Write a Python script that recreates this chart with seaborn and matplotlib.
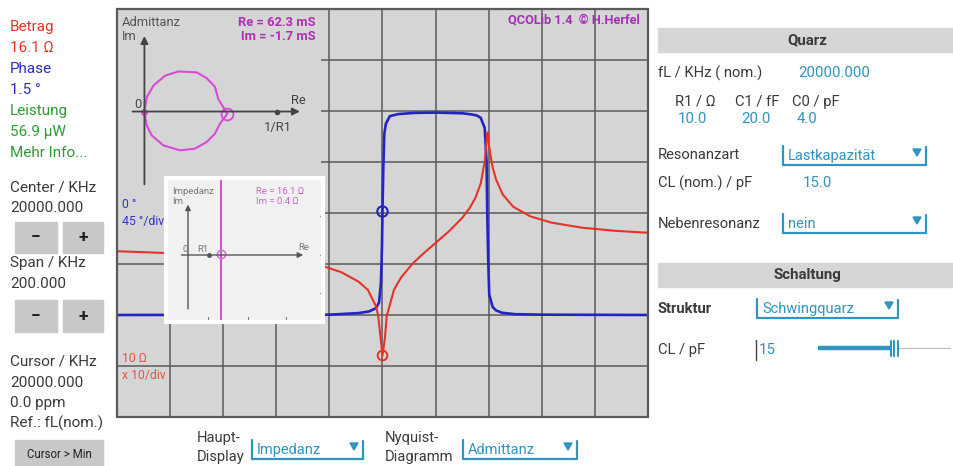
import numpy as np
import matplotlib
matplotlib.use("Agg")
import matplotlib.pyplot as plt
import seaborn as sns
from matplotlib.patches import Rectangle, Polygon

# ---------------- data ----------------
# impedance magnitude versus frequency offset from the 20000 kHz centre
freq_mag_khz = [-100, -81.5, -22.0, -15.5, -9.0, -5.5, -2.5, -1.6, -0.7, 0.0,
                0.9, 1.6, 4.3, 7.0, 11.2, 15.0, 20.0, 25.0, 30.0, 33.0, 35.0,
                37.0, 38.5, 39.2, 39.6, 40.0, 40.8, 41.5, 42.8, 45.3, 49.2,
                55.7, 63.5, 75.1, 88.0, 100]
mag_ohm = [1780, 1640, 895, 690, 450, 310, 150, 95, 35, 16.1,
           35, 95, 310, 544, 1000, 1540, 2590, 4360, 7990, 12900, 19800,
           37900, 101000, 270000, 380000, 230000, 125000, 78000, 45000, 23000, 13300,
           8600, 6500, 5150, 4460, 4100]

# phase versus frequency offset
freq_phase_khz = [-100, -20, -9, -5, -2.5, -1.3, -0.6, -0.2, 0.0, 0.3, 0.7, 1.3,
                  2.8, 6, 12, 20, 30, 33.5, 35.6, 37, 38.5, 39.2, 39.45, 39.8,
                  40.2, 41.5, 42.8, 45, 50, 60, 100]
phase_deg = [-90, -89.7, -88.3, -86.8, -84, -79, -62, -30, 1.5, 40, 70, 79,
             85.5, 87.3, 88.3, 88.6, 88, 87, 86, 84, 75, 45, 0, -40,
             -72, -83, -86, -88, -89.3, -89.7, -90]

# admittance locus (mS)
adm_re_ms = [0, 1.75, 6.75, 15.5, 25.5, 39.3, 46.75, 53, 55.5, 62.3,
             56.8, 53, 46.75, 38, 26.75, 14.25, 5.5, 1.75, 0]
adm_im_ms = [0, 10.7, 19.5, 27, 30.2, 29.5, 25.2, 18.75, 9.5, -1.7,
             -9.25, -16.75, -23, -28, -29.25, -25.5, -18, -10.5, 0]

cursor_khz = 0.0
cursor_mag_ohm = 16.1
cursor_phase_deg = 1.5
cursor_adm_ms = (62.3, -1.7)
cursor_imp_ohm = (16.1, 0.4)
r1_ohm = 10.0
inv_r1_ms = 100.0

# ---------------- figure ----------------
sns.set_theme(style="white")
plt.rcParams["font.family"] = ["Roboto", "DejaVu Sans"]

W, H = 954, 466
fig = plt.figure(figsize=(W / 100, H / 100), dpi=100)
fig.patch.set_facecolor("white")


def box(x0, y0, x1, y1):
    return [x0 / W, 1 - y1 / H, (x1 - x0) / W, (y1 - y0) / H]


def overlay(z):
    a = fig.add_axes([0, 0, 1, 1], zorder=z)
    a.set_xlim(0, W)
    a.set_ylim(H, 0)
    a.axis("off")
    a.patch.set_alpha(0)
    return a


ui = overlay(0)

GRID = "#5a5a5a"
SCOPE_BG = "#d5d5d5"
RED = "#e3342a"
BLUE = "#2424c4"
MAG = "#d84ad8"
TEAL = "#3193bf"
DARK = "#3a3a3a"

# ---------- main scope: phase axes (base) ----------
ph = fig.add_axes(box(117, 9, 648, 417), zorder=1)
ph.set_facecolor(SCOPE_BG)
ph.set_xlim(-100, 100)
ph.set_ylim(-180, 180)
ph.set_xticks(np.arange(-100, 101, 20))
ph.set_yticks(np.arange(-180, 181, 45))
ph.grid(True, color=GRID, lw=1.1)
ph.tick_params(length=0, labelleft=False, labelbottom=False)
for s in ph.spines.values():
    s.set_visible(False)

sns.lineplot(x=freq_phase_khz, y=phase_deg, ax=ph, color=BLUE, lw=1.9,
             sort=False, estimator=None, legend=False)
ph.plot([cursor_khz], [cursor_phase_deg], marker="o", ms=7.5, mfc="none",
        mec=BLUE, mew=1.5)

# ---------- magnitude (log) ----------
mg = ph.twinx()
mg.set_yscale("log")
mg.set_ylim(1, 1e8)
mg.set_xlim(-100, 100)
mg.tick_params(length=0, labelright=False)
mg.minorticks_off()
for s in mg.spines.values():
    s.set_visible(False)
sns.lineplot(x=freq_mag_khz, y=mag_ohm, ax=mg, color=RED, lw=1.5,
             sort=False, estimator=None, legend=False)
mg.plot([cursor_khz], [cursor_mag_ohm], marker="o", ms=7, mfc="none",
        mec=RED, mew=1.4)
mg.set_ylabel("")
ph.set_xlabel("")
ph.set_ylabel("")

# ---------- admittance Nyquist panel ----------
ad = fig.add_axes(box(118.5, 10, 321, 240), zorder=3)
ad.set_facecolor(SCOPE_BG)
ad.set_xlim(-19.5, 132.8)
ad.set_ylim(-96.8, 76.5)
ad.add_patch(Rectangle((-19.5, -96.8), 152.3, 173.3, color=SCOPE_BG, zorder=0))
ad.annotate("", xy=(119, 0), xytext=(-11, 0),
            arrowprops=dict(arrowstyle="-|>", color="#444444", lw=1.3, mutation_scale=11))
ad.annotate("", xy=(0, 59), xytext=(0, -57),
            arrowprops=dict(arrowstyle="-|>", color="#444444", lw=1.3, mutation_scale=11))
ad.plot([inv_r1_ms], [0], marker="o", ms=3, color="#444444")
sns.lineplot(x=adm_re_ms, y=adm_im_ms, ax=ad, color=MAG, lw=1.5,
             sort=False, estimator=None, legend=False)
ad.plot([0], [0], marker="o", ms=4, color=MAG)
ad.plot([cursor_adm_ms[0]], [cursor_adm_ms[1]], marker="o", ms=8.5, mfc="none",
        mec=MAG, mew=1.3)
ad.axis("off")

# ---------- impedance Nyquist panel ----------
im = fig.add_axes(box(166, 178, 323, 322), zorder=4)
im.set_facecolor("#f1f1f1")
im.set_xlim(-10.63, 65.2)
im.set_ylim(-32.37, 37.2)
im.set_xticks([])
im.set_yticks([])
for s in im.spines.values():
    s.set_color("white")
    s.set_linewidth(3)
im.annotate("", xy=(57, 0), xytext=(-4.5, 0),
            arrowprops=dict(arrowstyle="-|>", color="#555555", lw=1.0, mutation_scale=8))
im.annotate("", xy=(0, 25.7), xytext=(0, -27.4),
            arrowprops=dict(arrowstyle="-|>", color="#555555", lw=1.0, mutation_scale=8))
im.plot([r1_ohm], [0], marker="o", ms=2.5, color="#555555")
im.axvline(cursor_imp_ohm[0], color=MAG, lw=1.4)
im.plot([cursor_imp_ohm[0]], [cursor_imp_ohm[1]], marker="o", ms=6, mfc="none",
        mec="#d070d0", mew=1.1)
for xv in (9.7, 29.0, 47.3):
    im.plot([xv, xv], [-32.37, -30.0], color="#777777", lw=0.8)
for yv in (18.6, 0.0, -18.6):
    im.plot([63.8, 65.2], [yv, yv], color="#777777", lw=0.8)

# ---------- texts over the scope ----------
top = overlay(10)
top.add_patch(Rectangle((117, 9), 531, 408, fill=False, ec=GRID, lw=1.6))
SFS = 9.3
top.text(122, 22, "Admittanz", color="#555555", fontsize=SFS, va="center")
top.text(122, 37, "Im", color="#555555", fontsize=SFS, va="center")
top.text(316, 23, "Re = 62.3 mS", color="#b02cb4", fontsize=SFS, va="center",
         ha="right", fontweight="bold")
top.text(316, 37, "Im = -1.7 mS", color="#b02cb4", fontsize=SFS, va="center",
         ha="right", fontweight="bold")
top.text(640, 20, "QCOLib 1.4  \u00a9 H.Herfel", color="#a431b4", fontsize=9.2,
         va="center", ha="right", fontweight="bold")
top.text(137.5, 104, "0", color="#444444", fontsize=SFS, va="center", ha="center")
top.text(298, 100, "Re", color="#444444", fontsize=SFS, va="center", ha="center")
top.text(278, 127, "1/R1", color="#444444", fontsize=SFS, va="center", ha="center")
top.text(122, 205, "0 \u00b0", color="#3434c8", fontsize=8.8, va="center")
top.text(122, 222, "45 \u00b0/div", color="#3434c8", fontsize=8.8, va="center")
top.text(122, 358, "10 \u03a9", color="#e05545", fontsize=8.8, va="center")
top.text(122, 375, "x 10/div", color="#e05545", fontsize=8.8, va="center")

IFS = 6.8
top.text(172, 191, "Impedanz", color="#777777", fontsize=IFS, va="center")
top.text(172, 201, "Im", color="#777777", fontsize=IFS, va="center")
top.text(256, 192, "Re = 16.1 \u03a9", color="#c468cc", fontsize=IFS, va="center")
top.text(256, 201, "Im = 0.4 \u03a9", color="#c468cc", fontsize=IFS, va="center")
top.text(185, 249, "0", color="#777777", fontsize=IFS, va="center", ha="center")
top.text(203, 249, "R1", color="#777777", fontsize=IFS, va="center", ha="center")
top.text(304, 247, "Re", color="#777777", fontsize=IFS, va="center", ha="center")

# ---------- left panel ----------
FS = 11
left_lines = [
    (27, "Betrag", RED), (48, "16.1 \u03a9", RED),
    (69, "Phase", "#2a2ac0"), (90, "1.5 \u00b0", "#2a2ac0"),
    (111, "Leistung", "#2f9a38"), (132, "56.9 \u00b5W", "#2f9a38"),
    (153, "Mehr Info...", "#2f9a38"),
    (187, "Center / KHz", DARK), (208, "20000.000", DARK),
    (263, "Span / KHz", DARK), (284, "200.000", DARK),
    (362, "Cursor / KHz", DARK), (383, "20000.000", DARK),
    (403, "0.0 ppm", DARK), (423, "Ref.: fL(nom.)", DARK),
]
for y, t, c in left_lines:
    ui.text(10, y, t, color=c, fontsize=FS, va="center")

BTN = "#c8c8c8"
for y0, y1 in ((222, 253), (300, 332)):
    ui.add_patch(Rectangle((15, y0), 42, y1 - y0, color=BTN))
    ui.add_patch(Rectangle((63, y0), 40, y1 - y0, color=BTN))
    ui.text(36, (y0 + y1) / 2, "\u2212", fontsize=12.5, fontweight="bold",
            color="#222222", ha="center", va="center")
    ui.text(83, (y0 + y1) / 2, "+", fontsize=12.5, fontweight="bold",
            color="#222222", ha="center", va="center")
ui.add_patch(Rectangle((15, 440), 88, 26, color=BTN))
ui.text(59, 455, "Cursor > Min", fontsize=8.3, color="#222222", ha="center", va="center")


# ---------- dropdowns ----------
def dropdown(x0, x1, y, label):
    ui.plot([x0, x0], [y - 9, y + 10], color=TEAL, lw=1.6)
    ui.plot([x0, x1], [y + 10, y + 10], color=TEAL, lw=1.6)
    ui.plot([x1, x1], [y - 8, y + 10], color=TEAL, lw=1.6)
    ui.add_patch(Polygon([[x1 - 13, y - 6], [x1 - 5, y - 6], [x1 - 9, y + 1]],
                         closed=True, color=TEAL))
    ui.text(x0 + 5, y + 1, label, color=TEAL, fontsize=10.5, va="center")


# ---------- right panel ----------
RFS = 10.6
ui.add_patch(Rectangle((658, 28), 296, 24, color="#d6d6d6"))
ui.text(807, 40, "Quarz", fontsize=10.8, fontweight="bold", color=DARK,
        ha="center", va="center")
ui.text(658, 73, "fL / KHz ( nom.)", fontsize=RFS, color=DARK, va="center")
ui.text(798, 73, "20000.000", fontsize=10.8, color=TEAL, va="center")
for x, t in ((675, "R1 / \u03a9"), (735, "C1 / fF"), (792, "C0 / pF")):
    ui.text(x, 102, t, fontsize=RFS, color=DARK, va="center")
for x, t in ((678, "10.0"), (741, "20.0"), (797, "4.0")):
    ui.text(x, 119, t, fontsize=10.8, color=TEAL, va="center")
ui.text(658, 155, "Resonanzart", fontsize=RFS, color=DARK, va="center")
dropdown(783, 926, 155, "Lastkapazit\u00e4t")
ui.text(658, 183, "CL (nom.) / pF", fontsize=RFS, color=DARK, va="center")
ui.text(803, 183, "15.0", fontsize=10.8, color=TEAL, va="center")
ui.text(658, 224, "Nebenresonanz", fontsize=RFS, color=DARK, va="center")
dropdown(783, 926, 223, "nein")

ui.add_patch(Rectangle((658, 263), 296, 24, color="#d6d6d6"))
ui.text(807, 275, "Schaltung", fontsize=10.8, fontweight="bold", color=DARK,
        ha="center", va="center")
ui.text(658, 309, "Struktur", fontsize=RFS, fontweight="bold", color=DARK, va="center")
dropdown(757, 898, 308, "Schwingquarz")
ui.text(658, 350, "CL / pF", fontsize=RFS, color=DARK, va="center")
ui.plot([756, 756], [340, 360], color="#444444", lw=1.0)
ui.text(759, 350, "15", fontsize=10.8, color=TEAL, va="center")
ui.plot([818, 890], [348, 348], color=TEAL, lw=3.2, solid_capstyle="butt")
ui.plot([898, 950], [348, 348], color="#bbbbbb", lw=0.8)
for xv in (891, 894.5, 898):
    ui.plot([xv, xv], [341, 356], color=TEAL, lw=1.5)

# ---------- bottom selectors ----------
ui.text(197, 438, "Haupt-", fontsize=RFS, color=DARK, va="center")
ui.text(197, 457, "Display", fontsize=RFS, color=DARK, va="center")
dropdown(252, 363, 449, "Impedanz")
ui.text(385, 438, "Nyquist-", fontsize=RFS, color=DARK, va="center")
ui.text(385, 457, "Diagramm", fontsize=RFS, color=DARK, va="center")
dropdown(463, 577, 449, "Admittanz")

fig.savefig("out.png", dpi=100, facecolor="white")
